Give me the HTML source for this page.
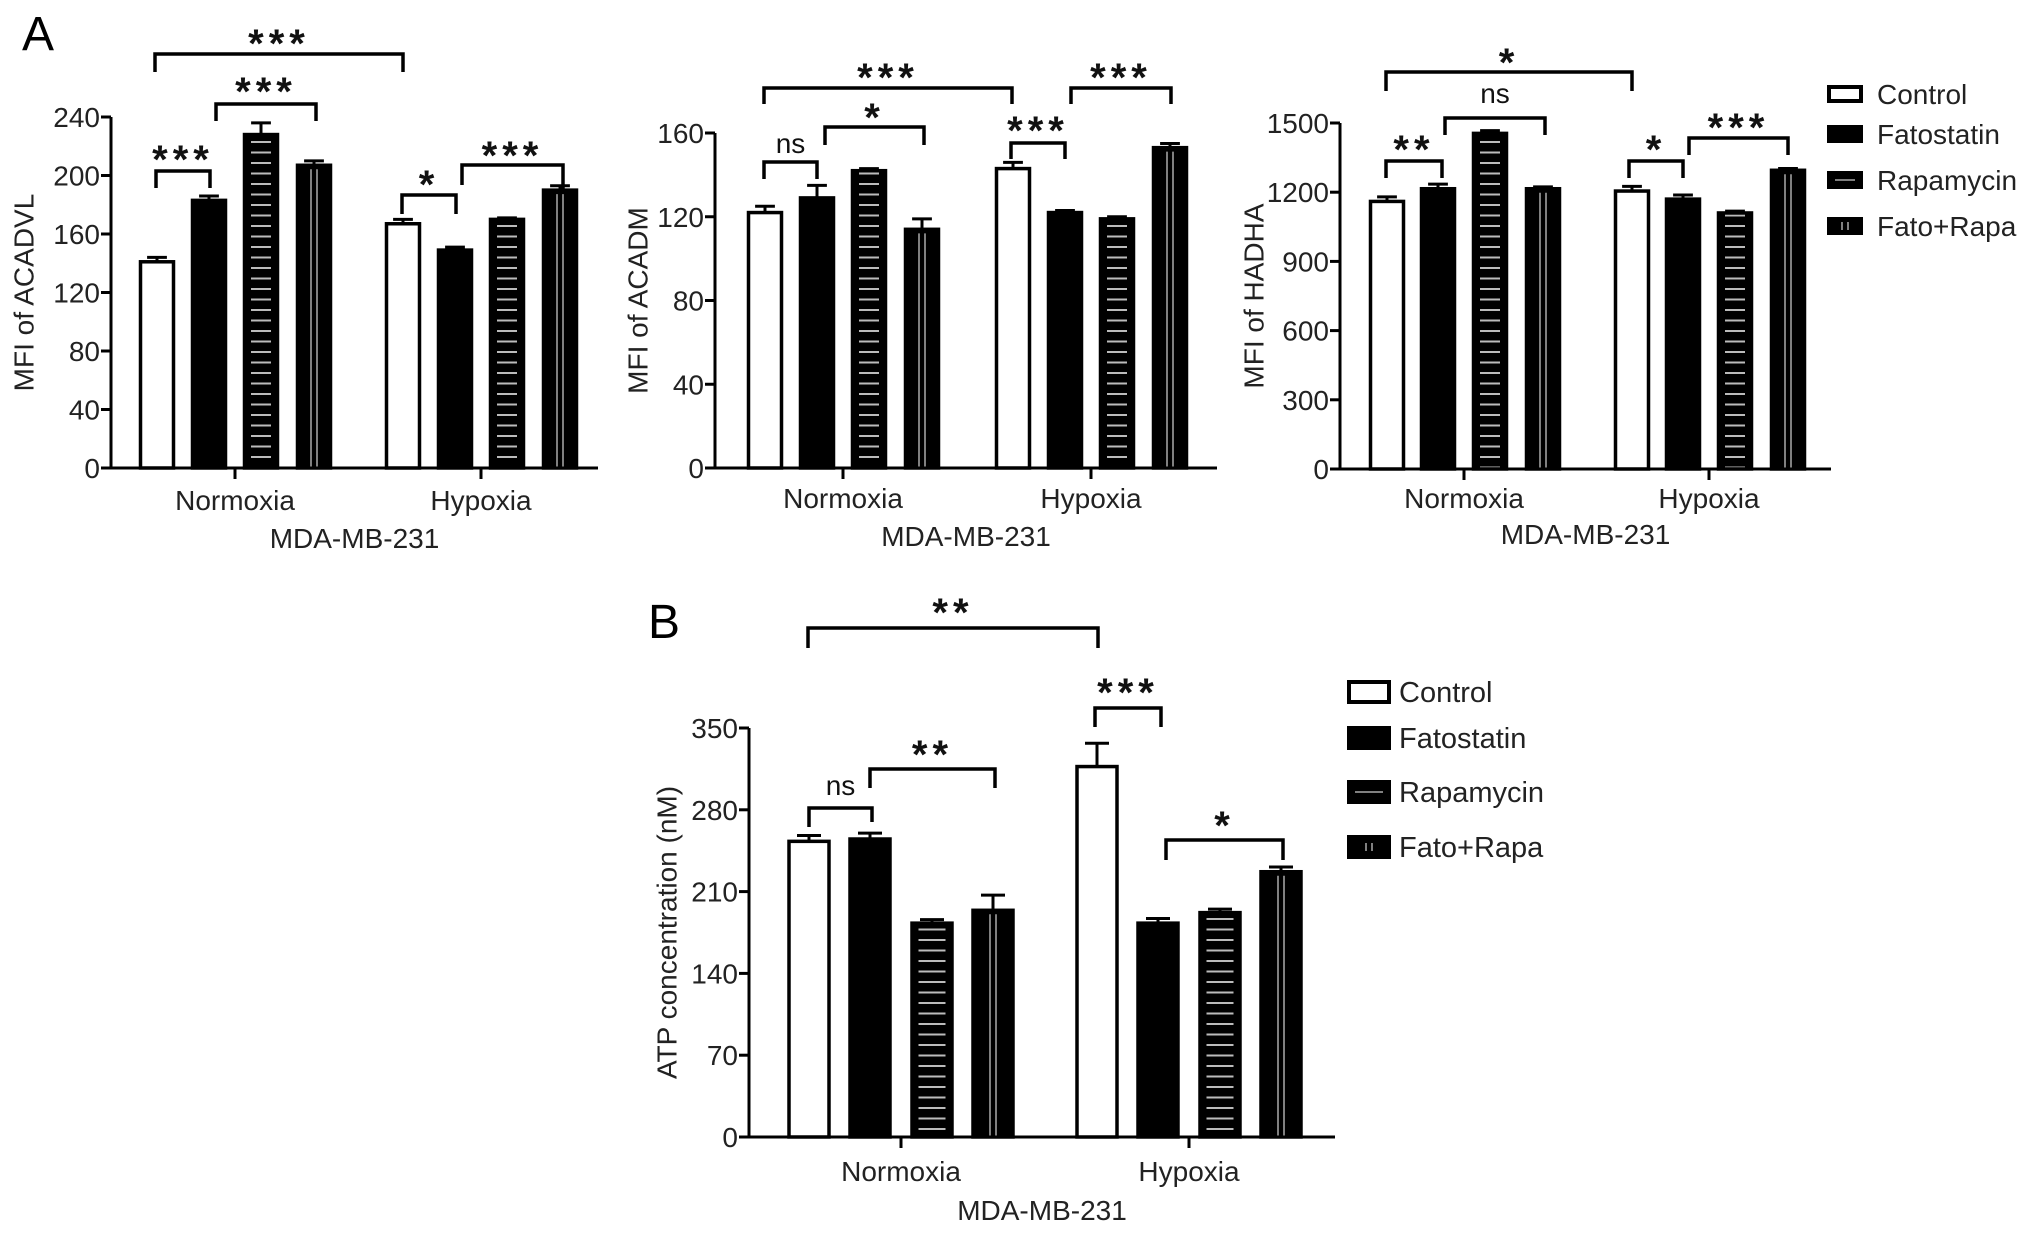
<!DOCTYPE html>
<html><head><meta charset="utf-8">
<style>
html,body{margin:0;padding:0;background:#fff;}
svg{display:block;font-family:"Liberation Sans",Arial,sans-serif;}
</style></head>
<body>
<svg id="fig" width="2032" height="1235" viewBox="0 0 2032 1235" xmlns="http://www.w3.org/2000/svg">
<defs>
<pattern id="hatchH" patternUnits="userSpaceOnUse" width="10" height="10.5">
<rect width="10" height="10.5" fill="#000"/><rect y="4.5" width="10" height="2" fill="#bbb"/>
</pattern>
</defs>
<text x="22" y="50" font-size="48">A</text>
<text x="648" y="638" font-size="48">B</text>
</svg>
<script>
const groups = ["Normoxia","Hypoxia"];
const seriesNames = ["Control","Fatostatin","Rapamycin","Fato+Rapa"];
// ACADVL
const acadvlVals = [[141,183,228,207],[167,149,170,190]];
const acadvlErr  = [[3,3,8,3],[3,2,1,3]];
const acadvlTicks = [0,40,80,120,160,200,240];
// ACADM
const acadmVals = [[122,129,142,114],[143,122,119,153]];
const acadmErr  = [[3,6,1,5],[3,1,1,2]];
const acadmTicks = [0,40,80,120,160];
// HADHA
const hadhaVals = [[1160,1215,1455,1215],[1205,1170,1110,1295]];
const hadhaErr  = [[20,20,12,8],[20,18,8,8]];
const hadhaTicks = [0,300,600,900,1200,1500];
// ATP
const atpVals = [[253,255,183,194],[317,183,192,227]];
const atpErr  = [[5,5,3,13],[20,4,3,4]];
const atpTicks = [0,70,140,210,280,350];

const NS="http://www.w3.org/2000/svg";
const svg=document.getElementById('fig');
function el(tag,attrs,parent){const e=document.createElementNS(NS,tag);for(const k in attrs)e.setAttribute(k,attrs[k]);(parent||svg).appendChild(e);return e;}

function chart(cfg){
  const g=el('g',{});
  
  
  const ymax=cfg.ticks[cfg.ticks.length-1];
  const y=v=>cfg.y0-(v/ymax)*(cfg.y0-cfg.yTop);
  const bx=(gi,si)=>cfg.centers[gi]+cfg.offsets[si];
  cfg.vals.forEach((row,gi)=>row.forEach((v,si)=>{
    const cx=bx(gi,si), w=cfg.bw, top=y(v), eTop=y(v+cfg.err[gi][si]);
    const eb=el('line',{x1:cx,x2:cx,y1:top,y2:eTop,stroke:'#000','stroke-width':3},g);
    
    
    const cap=el('line',{x1:cx-w*0.3,x2:cx+w*0.3,y1:eTop,y2:eTop,stroke:'#000','stroke-width':3},g);
    
    
    let fill = si===0?'#fff':(si===2?'url(#hatchH)':'#000');
    const r=el('rect',{x:cx-w/2,y:top,width:w,height:cfg.y0-top,fill:fill,stroke:'#000','stroke-width':3.5},g);
    
    
    if(si===2){
      el('rect',{x:cx-w/2+1.5,y:top+1.5,width:5,height:cfg.y0-top-3,fill:'#000'},g);
      el('rect',{x:cx+w/2-6.5,y:top+1.5,width:5,height:cfg.y0-top-3,fill:'#000'},g);
    }
    if(si===3){
      el('line',{x1:cx-3,x2:cx-3,y1:top+4,y2:cfg.y0,stroke:'#aaa','stroke-width':1.5},g);
      el('line',{x1:cx+3,x2:cx+3,y1:top+4,y2:cfg.y0,stroke:'#aaa','stroke-width':1.5},g);
    }
  }));
  const ya=el('line',{x1:cfg.axisX,x2:cfg.axisX,y1:cfg.y0+1.5,y2:cfg.yTop,stroke:'#000','stroke-width':3},g);
  
  
  const xa=el('line',{x1:cfg.axisX-10,x2:cfg.axisEnd,y1:cfg.y0,y2:cfg.y0,stroke:'#000','stroke-width':3},g);
  
  
  cfg.ticks.forEach(t=>{
    el('line',{x1:cfg.axisX-10,x2:cfg.axisX,y1:y(t),y2:y(t),stroke:'#000','stroke-width':3},g);
    const tl=el('text',{x:cfg.axisX-11,y:y(t)+10,'font-size':28,'text-anchor':'end',fill:'#222'},g);
    tl.textContent=t;
    
    
  });
  groups.forEach((gn,gi)=>{
    el('line',{x1:cfg.centers[gi],x2:cfg.centers[gi],y1:cfg.y0,y2:cfg.y0+11,stroke:'#000','stroke-width':3},g);
    const t=el('text',{x:cfg.centers[gi],y:cfg.catY,'font-size':28,'text-anchor':'middle',fill:'#222'},g);
    t.textContent=gn;
    
    
  });
  const xt=el('text',{x:(cfg.axisX+cfg.axisEnd)/2,y:cfg.titleY,'font-size':28,'text-anchor':'middle',fill:'#222'},g);
  xt.textContent='MDA-MB-231';
  
  
  const yc=(cfg.y0+cfg.yTop)/2;
  const yt=el('text',{x:cfg.ylabX,y:yc,'font-size':28,'text-anchor':'middle',fill:'#222',transform:`rotate(-90 ${cfg.ylabX} ${yc})`,'dominant-baseline':'middle'},g);
  yt.textContent=cfg.ylabel;
  
  
  cfg.brackets.forEach(b=>{
    const p=el('path',{d:`M${b.x1} ${b.l1} L${b.x1} ${b.y} L${b.x2} ${b.y} L${b.x2} ${b.l2}`,fill:'none',stroke:'#000','stroke-width':3.5},g);
    
    
    const ns=b.t==='ns';
    const t=el('text',{x:(b.x1+b.x2)/2,y:ns?b.ty+9:b.ty+23,'font-size':ns?28:40,'font-weight':ns?'normal':'bold','text-anchor':'middle','letter-spacing':ns?0:5,fill:'#111'},g);
    t.textContent=b.t;
    
    
  });
}

function legend(x,ys,bw,bh,tx,fs,name){
  const g=el('g',{});
  
  
  seriesNames.forEach((s,i)=>{
    const cy=ys[i];
    const fill=i===0?'#fff':'#000';
    el('rect',{x:x,y:cy-bh/2,width:bw,height:bh,fill:fill,stroke:'#000','stroke-width':4},g);
    if(i===2) el('line',{x1:x+6,x2:x+bw-6,y1:cy,y2:cy,stroke:'#aaa','stroke-width':1.5},g);
    if(i===3){el('line',{x1:x+bw/2-3,x2:x+bw/2-3,y1:cy-4,y2:cy+4,stroke:'#aaa','stroke-width':1.5},g);el('line',{x1:x+bw/2+3,x2:x+bw/2+3,y1:cy-4,y2:cy+4,stroke:'#aaa','stroke-width':1.5},g);}
    const t=el('text',{x:tx,y:cy+10,'font-size':fs,fill:'#222'},g);
    t.textContent=s;
    
    
  });
}

chart({name:'acadvl-chart',vals:acadvlVals,err:acadvlErr,ticks:acadvlTicks,axisX:111,y0:468,yTop:117,
  centers:[235,481],offsets:[-78,-26,26,79],bw:33,axisEnd:598,catY:510,titleY:548,ylabX:26,ylabel:'MFI of ACADVL',
  brackets:[
    {x1:155,x2:403,y:54,l1:72,l2:72,t:'***',ty:34},
    {x1:216,x2:316,y:104,l1:121,l2:121,t:'***',ty:82},
    {x1:156,x2:210,y:171,l1:188,l2:188,t:'***',ty:150},
    {x1:402,x2:456,y:195,l1:214,l2:214,t:'*',ty:175},
    {x1:462,x2:563,y:165,l1:185,l2:190,t:'***',ty:146}]});
chart({name:'acadm-chart',vals:acadmVals,err:acadmErr,ticks:acadmTicks,axisX:715,y0:468,yTop:133,
  centers:[843,1091],offsets:[-78,-26,26,79],bw:33,axisEnd:1217,catY:508,titleY:546,ylabX:640,ylabel:'MFI of ACADM',
  brackets:[
    {x1:764,x2:1012,y:88,l1:104,l2:104,t:'***',ty:68},
    {x1:764,x2:817,y:162,l1:179,l2:179,t:'ns',ty:144},
    {x1:825,x2:924,y:127,l1:145,l2:145,t:'*',ty:108},
    {x1:1011,x2:1065,y:143,l1:159,l2:159,t:'***',ty:121},
    {x1:1071,x2:1171,y:88,l1:104,l2:104,t:'***',ty:68}]});
chart({name:'hadha-chart',vals:hadhaVals,err:hadhaErr,ticks:hadhaTicks,axisX:1340,y0:469,yTop:123,
  centers:[1464,1709],offsets:[-77,-26,26,79],bw:33,axisEnd:1831,catY:508,titleY:544,ylabX:1256,ylabel:'MFI of HADHA',
  brackets:[
    {x1:1386,x2:1632,y:72,l1:91,l2:91,t:'*',ty:53},
    {x1:1445,x2:1545,y:118,l1:135,l2:135,t:'ns',ty:94},
    {x1:1386,x2:1442,y:161,l1:178,l2:178,t:'**',ty:140},
    {x1:1629,x2:1683,y:161,l1:178,l2:178,t:'*',ty:140},
    {x1:1689,x2:1788,y:138,l1:155,l2:155,t:'***',ty:118}]});
chart({name:'atp-chart',vals:atpVals,err:atpErr,ticks:atpTicks,axisX:749,y0:1137,yTop:728,
  centers:[901,1189],offsets:[-92,-31,31,92],bw:40,axisEnd:1335,catY:1181,titleY:1220,ylabX:669,ylabel:'ATP concentration (nM)',
  brackets:[
    {x1:808,x2:1098,y:628,l1:648,l2:648,t:'**',ty:603},
    {x1:1095,x2:1161,y:708,l1:727,l2:727,t:'***',ty:683},
    {x1:809,x2:872,y:808,l1:827,l2:822,t:'ns',ty:786},
    {x1:870,x2:995,y:769,l1:788,l2:788,t:'**',ty:745},
    {x1:1166,x2:1283,y:840,l1:860,l2:860,t:'*',ty:816}]});

legend(1829,[94,134,180,226],32,14,1877,28,'legend-a');
legend(1349,[692,738,792,847],40,20,1399,29,'legend-b');
</script>
</body></html>
